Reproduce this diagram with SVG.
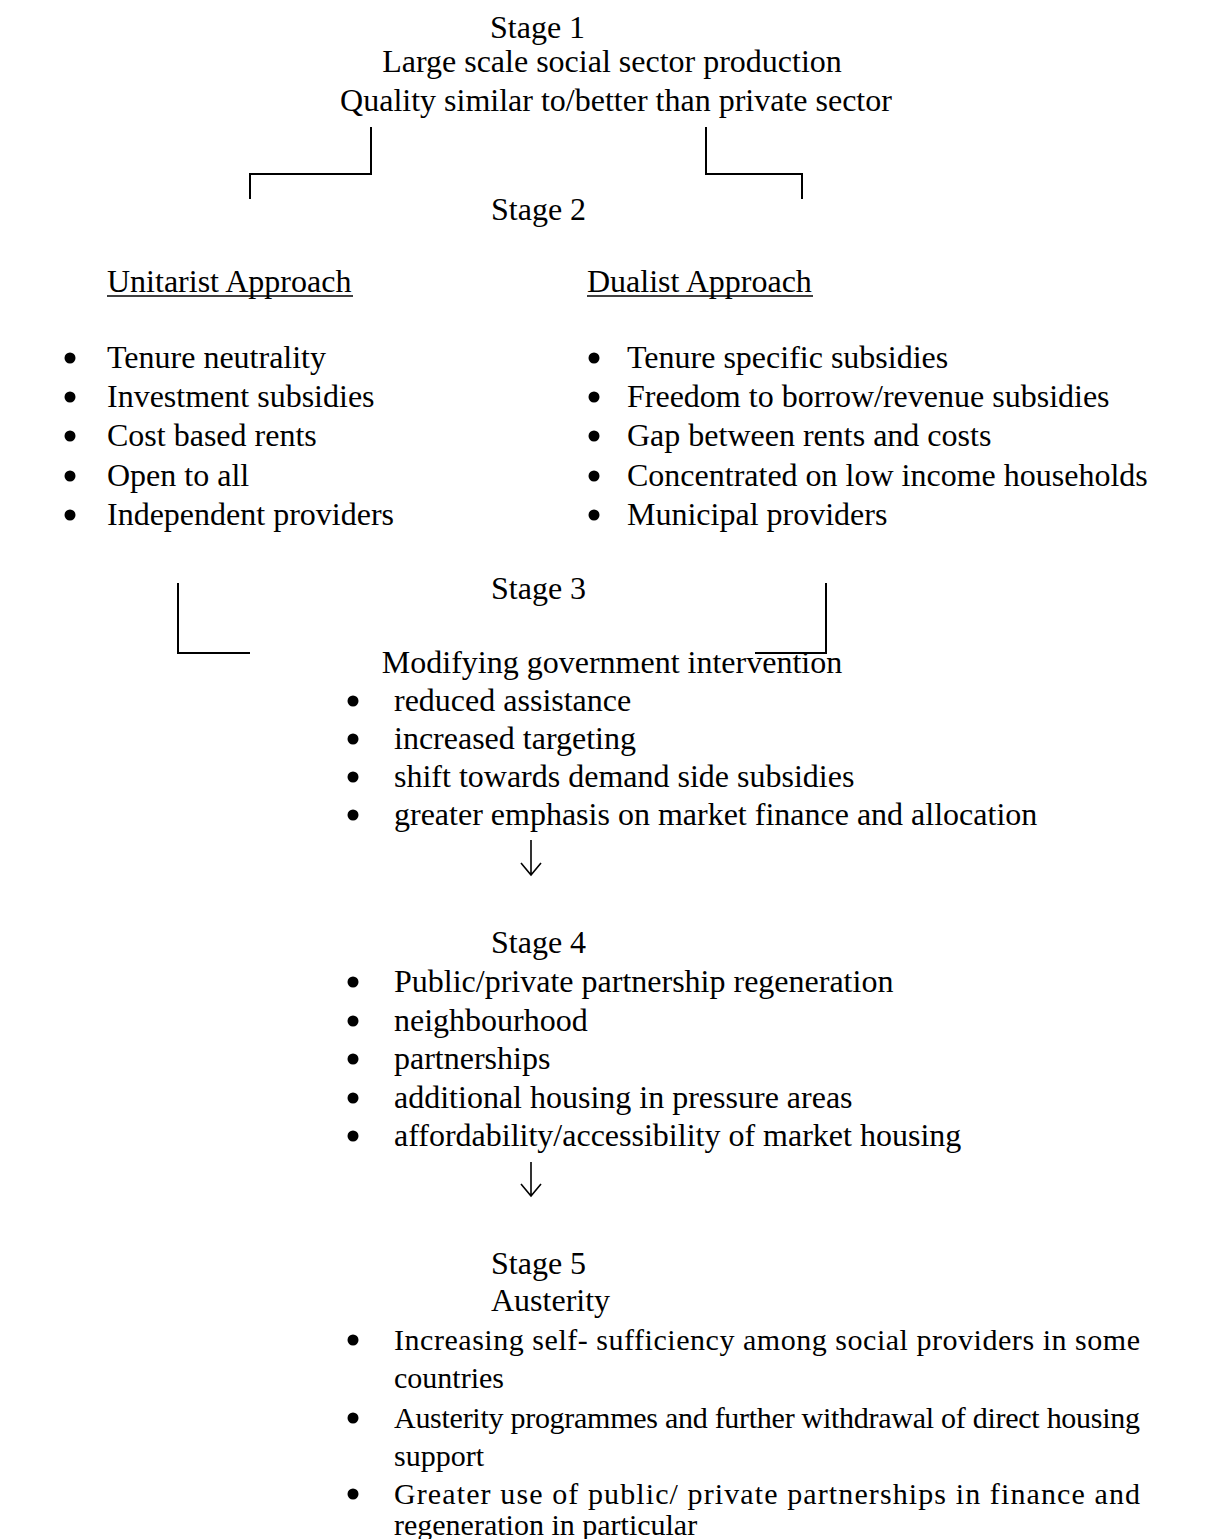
<svg xmlns="http://www.w3.org/2000/svg" width="1226" height="1539" viewBox="0 0 1226 1539">
<style>
text{font-family:"Liberation Serif","Times New Roman",serif;font-size:32px;fill:#000}
.c{text-anchor:middle}
.s{font-size:30px}
.ln{stroke:#000;stroke-width:2;fill:none}
.ul{stroke:#000;stroke-width:1.5}
.ar{stroke:#000;stroke-width:1.6;fill:none}
.b{fill:#000}
</style>
<rect width="1226" height="1539" fill="#fff"/>
<g id="connectors">
<path class="ln" d="M371,127 V174 H250 V199"/>
<path class="ln" d="M706,127 V174 H802 V199"/>
<path class="ln" d="M178,583 V653 H250"/>
<path class="ln" d="M826,583 V653 H755"/>
<path class="ar" d="M531,840 V875 M521,863 L531,875 L541,863"/>
<path class="ar" d="M531,1162 V1196 M521,1184 L531,1196 L541,1184"/>
</g>
<g id="stage1">
<text x="490" y="38">Stage 1</text>
<text class="c" x="612" y="72">Large scale social sector production</text>
<text class="c" x="616" y="111">Quality similar to/better than private sector</text>
</g>
<g id="stage2">
<text x="491" y="220">Stage 2</text>
</g>
<g id="unitarist">
<text x="107" y="292">Unitarist Approach</text>
<line class="ul" x1="107" y1="296" x2="353" y2="296"/>
<circle class="b" cx="70" cy="358" r="5.5"/><text x="107" y="368">Tenure neutrality</text>
<circle class="b" cx="70" cy="397" r="5.5"/><text x="107" y="407">Investment subsidies</text>
<circle class="b" cx="70" cy="436" r="5.5"/><text x="107" y="446">Cost based rents</text>
<circle class="b" cx="70" cy="476" r="5.5"/><text x="107" y="486">Open to all</text>
<circle class="b" cx="70" cy="515" r="5.5"/><text x="107" y="525">Independent providers</text>
</g>
<g id="dualist">
<text x="587" y="292">Dualist Approach</text>
<line class="ul" x1="587" y1="296" x2="813" y2="296"/>
<circle class="b" cx="594" cy="358" r="5.5"/><text x="627" y="368">Tenure specific subsidies</text>
<circle class="b" cx="594" cy="397" r="5.5"/><text x="627" y="407">Freedom to borrow/revenue subsidies</text>
<circle class="b" cx="594" cy="436" r="5.5"/><text x="627" y="446">Gap between rents and costs</text>
<circle class="b" cx="594" cy="476" r="5.5"/><text x="627" y="486">Concentrated on low income households</text>
<circle class="b" cx="594" cy="515" r="5.5"/><text x="627" y="525">Municipal providers</text>
</g>
<g id="stage3">
<text x="491" y="599">Stage 3</text>
<text class="c" x="612" y="673">Modifying government intervention</text>
<circle class="b" cx="353" cy="701" r="5.5"/><text x="394" y="711">reduced assistance</text>
<circle class="b" cx="353" cy="739" r="5.5"/><text x="394" y="749">increased targeting</text>
<circle class="b" cx="353" cy="777" r="5.5"/><text x="394" y="787">shift towards demand side subsidies</text>
<circle class="b" cx="353" cy="815" r="5.5"/><text x="394" y="825">greater emphasis on market finance and allocation</text>
</g>
<g id="stage4">
<text x="491" y="953">Stage 4</text>
<circle class="b" cx="353" cy="982" r="5.5"/><text x="394" y="992">Public/private partnership regeneration</text>
<circle class="b" cx="353" cy="1021" r="5.5"/><text x="394" y="1031">neighbourhood</text>
<circle class="b" cx="353" cy="1059" r="5.5"/><text x="394" y="1069">partnerships</text>
<circle class="b" cx="353" cy="1098" r="5.5"/><text x="394" y="1108">additional housing in pressure areas</text>
<circle class="b" cx="353" cy="1136" r="5.5"/><text x="394" y="1146">affordability/accessibility of market housing</text>
</g>
<g id="stage5">
<text x="491" y="1274">Stage 5</text>
<text x="491" y="1311">Austerity</text>
<circle class="b" cx="353" cy="1340" r="5.5"/><text class="s" x="394" y="1350" textLength="746" lengthAdjust="spacing">Increasing self- sufficiency among social providers in some</text>
<text class="s" x="394" y="1388">countries</text>
<circle class="b" cx="353" cy="1418" r="5.5"/><text class="s" x="394" y="1428" textLength="746" lengthAdjust="spacing">Austerity programmes and further withdrawal of direct housing</text>
<text class="s" x="394" y="1466">support</text>
<circle class="b" cx="353" cy="1494" r="5.5"/><text class="s" x="394" y="1504" textLength="746" lengthAdjust="spacing">Greater use of public/ private partnerships in finance and</text>
<text class="s" x="394" y="1535">regeneration in particular</text>
</g>
</svg>
